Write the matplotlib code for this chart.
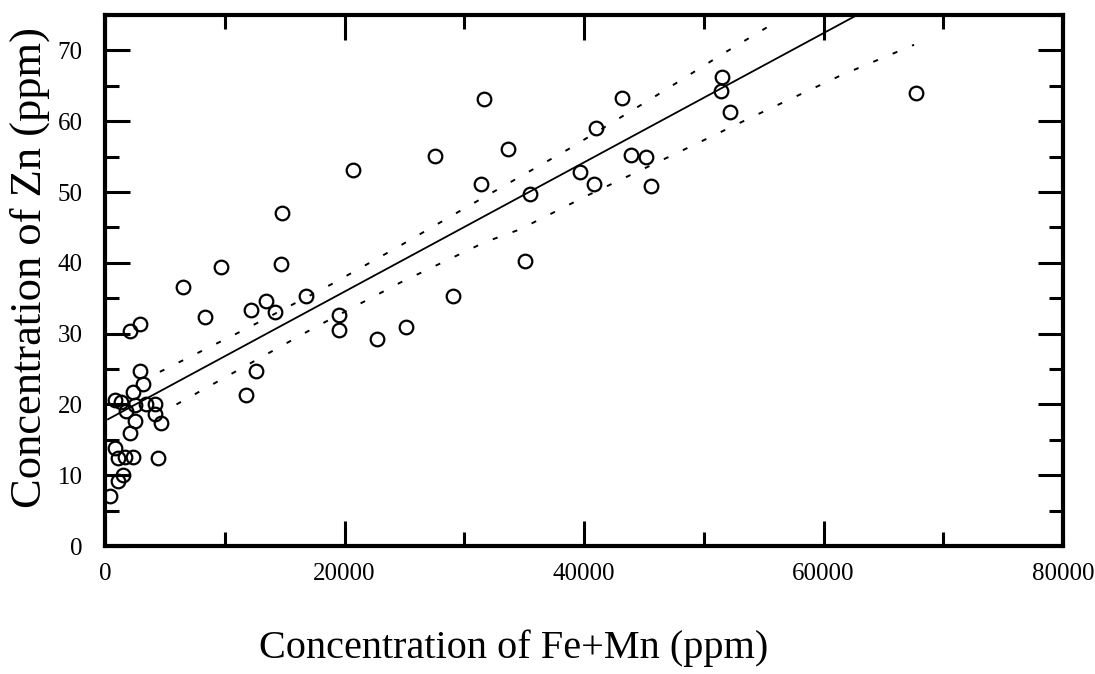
import matplotlib
matplotlib.use('Agg')
import matplotlib.pyplot as plt
from matplotlib.ticker import MultipleLocator

# Fe+Mn (ppm) and Zn (ppm)
fe_mn = [390, 1090, 1510, 1090, 1650, 2340, 4430, 810, 2070, 2490,
         4710, 4160, 1780, 810, 1360, 2490, 3460, 4160, 2340, 3180,
         2900, 2090, 2930,
         6530, 8370, 9710, 13470, 16820, 12220, 14230, 12640, 11800, 14810,
         14730, 20750, 19500, 19580, 22680, 25100, 29040, 27530, 31630, 31380,
         33620, 35460, 39640, 40840, 40970, 43180, 43890, 45160, 45570, 35030,
         51520, 51440, 52190, 67700]
zn = [7.1, 9.2, 10.0, 12.4, 12.6, 12.6, 12.5, 13.8, 15.9, 17.6,
      17.4, 18.6, 19.0, 20.6, 20.4, 19.9, 20.1, 20.1, 21.8, 22.9,
      24.7, 30.4, 31.4,
      36.6, 32.3, 39.4, 34.6, 35.3, 33.3, 33.0, 24.7, 21.4, 47.0,
      39.8, 53.1, 32.7, 30.5, 29.3, 30.9, 35.3, 55.1, 63.1, 51.2,
      56.1, 49.7, 52.8, 51.2, 59.1, 63.3, 55.2, 55.0, 50.8, 40.2,
      66.2, 64.2, 61.3, 64.0]

# regression line
fit_x = [250, 80000]
fit_y = [17.9, 90.7]

# dotted band lines
upper_x = [4580, 11690, 18940, 24520, 30230, 38850, 45920, 51570, 55810]
upper_y = [24.6, 30.6, 37.0, 42.3, 47.9, 56.2, 63.5, 69.5, 73.8]
lower_x = [5970, 10430, 17550, 24650, 31700, 34610, 40270, 48740, 54410, 61480, 67560]
lower_y = [20.0, 24.2, 30.9, 37.2, 42.9, 44.7, 49.5, 56.3, 60.9, 66.5, 70.8]

plt.rcParams['font.family'] = ['Liberation Serif', 'DejaVu Serif']

fig = plt.figure(figsize=(10.95, 6.74), dpi=100)
ax = fig.add_axes([0.0959, 0.1899, 0.9708 - 0.0959, 0.9777 - 0.1899])

ax.plot(fit_x, fit_y, color='black', lw=1.3, zorder=2)
ax.plot(upper_x, upper_y, color='black', lw=1.4, linestyle=(0, (2.6, 8.2)), zorder=2)
ax.plot(lower_x, lower_y, color='black', lw=1.4, linestyle=(0, (2.6, 8.2)), zorder=2)
ax.plot(fe_mn, zn, linestyle='none', marker='o', markersize=9.8,
        markerfacecolor='none', markeredgecolor='black', markeredgewidth=1.6, zorder=3)

ax.set_xlim(0, 80000)
ax.set_ylim(0, 75)
ax.xaxis.set_major_locator(MultipleLocator(20000))
ax.xaxis.set_minor_locator(MultipleLocator(10000))
ax.yaxis.set_major_locator(MultipleLocator(10))
ax.yaxis.set_minor_locator(MultipleLocator(5))

for s in ax.spines.values():
    s.set_linewidth(3)

ax.tick_params(which='both', direction='in', top=True, right=True, width=2.2,
               labelsize=18)
ax.tick_params(which='major', length=18)
ax.tick_params(which='minor', length=10)
ax.tick_params(axis='x', pad=12)
ax.tick_params(axis='y', pad=16)

fig.text(514 / 1095, 1 - 648 / 674, 'Concentration of Fe+Mn (ppm)',
         ha='center', va='center', fontsize=29)
fig.text(30 / 1095, 1 - 267 / 674, 'Concentration of Zn (ppm)',
         ha='center', va='center', rotation=90, fontsize=32)

fig.savefig('out.png', dpi=100)
